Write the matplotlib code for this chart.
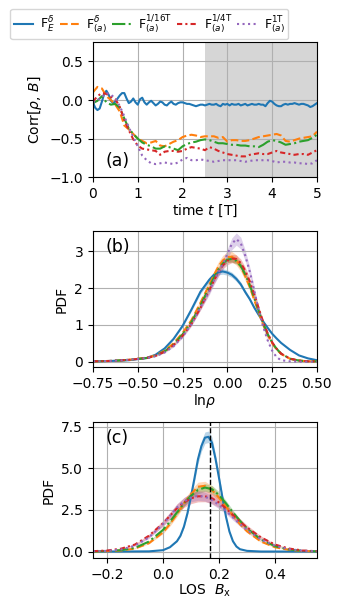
import matplotlib
matplotlib.use("Agg")
import matplotlib.pyplot as plt
import numpy as np

# ---- panel (a): correlation vs time ----
T_BLUE = np.arange(0, 101) * 0.05
CORR_E = [
    -0.03, -0.10, -0.13, -0.11, -0.02, 0.08, 0.12, 0.07, -0.01, -0.04,
    -0.02, 0.02, 0.06, 0.09, 0.09, 0.02, -0.04, -0.02, 0.02, -0.03,
    -0.06, 0.01, 0.03, -0.03, -0.06, -0.03, -0.01, -0.04, -0.07, -0.05,
    -0.02, -0.03, -0.06, -0.07, -0.04, -0.02, -0.05, -0.06, -0.04, -0.03,
    -0.03, -0.04, -0.05, -0.05, -0.06, -0.07, -0.08, -0.07, -0.06, -0.06,
    -0.07, -0.06, -0.05, -0.06, -0.06, -0.05, -0.07, -0.08, -0.05, -0.06,
    -0.05, -0.07, -0.05, -0.06, -0.06, -0.05, -0.07, -0.06, -0.05, -0.07,
    -0.06, -0.05, -0.06, -0.06, -0.05, -0.06, -0.06, -0.08, -0.04, -0.01,
    -0.02, -0.05, -0.07, -0.08, -0.08, -0.06, -0.05, -0.06, -0.05, -0.05,
    -0.04, -0.05, -0.06, -0.05, -0.05, -0.06, -0.07, -0.09, -0.08, -0.06,
    -0.04,
]
T_A = np.arange(0, 51) * 0.1
CORR_DELTA = [
    0.10, 0.17, 0.15, 0.05, 0.00, -0.06, -0.15, -0.33, -0.38, -0.44,
    -0.50, -0.53, -0.56, -0.55, -0.53, -0.59, -0.60, -0.57, -0.54, -0.52,
    -0.48, -0.46, -0.45, -0.46, -0.48, -0.47, -0.47, -0.47, -0.49, -0.48,
    -0.54, -0.52, -0.52, -0.53, -0.53, -0.52, -0.50, -0.48, -0.47, -0.46,
    -0.45, -0.44, -0.46, -0.53, -0.54, -0.52, -0.50, -0.49, -0.48, -0.47,
    -0.41,
]
CORR_16T = [
    -0.04, -0.01, 0.05, -0.03, -0.06, -0.05, -0.10, -0.24, -0.37, -0.44,
    -0.50, -0.55, -0.58, -0.60, -0.63, -0.63, -0.60, -0.61, -0.63, -0.65,
    -0.60, -0.57, -0.55, -0.54, -0.52, -0.51, -0.52, -0.54, -0.56, -0.56,
    -0.57, -0.58, -0.58, -0.59, -0.59, -0.60, -0.60, -0.61, -0.58, -0.54,
    -0.52, -0.53, -0.55, -0.58, -0.57, -0.56, -0.54, -0.53, -0.52, -0.49,
    -0.45,
]
CORR_4T = [
    -0.02, 0.05, 0.09, 0.08, 0.04, 0.01, -0.09, -0.26, -0.39, -0.51,
    -0.59, -0.63, -0.64, -0.65, -0.66, -0.71, -0.67, -0.66, -0.66, -0.67,
    -0.66, -0.63, -0.61, -0.62, -0.63, -0.65, -0.61, -0.63, -0.66, -0.68,
    -0.70, -0.71, -0.72, -0.73, -0.73, -0.71, -0.70, -0.69, -0.70, -0.70,
    -0.68, -0.66, -0.68, -0.69, -0.70, -0.71, -0.70, -0.70, -0.71, -0.68,
    -0.65,
]
CORR_1T = [
    -0.03, 0.00, 0.04, 0.09, 0.07, 0.02, -0.08, -0.21, -0.35, -0.48,
    -0.60, -0.72, -0.78, -0.82, -0.83, -0.82, -0.81, -0.82, -0.83, -0.81,
    -0.77, -0.75, -0.78, -0.78, -0.77, -0.78, -0.79, -0.80, -0.79, -0.78,
    -0.78, -0.78, -0.78, -0.79, -0.80, -0.79, -0.78, -0.78, -0.78, -0.78,
    -0.79, -0.81, -0.80, -0.80, -0.81, -0.81, -0.82, -0.82, -0.83, -0.82,
    -0.78,
]
SHADE_START, SHADE_END = 2.5, 5.0

# ---- panel (b): PDF of ln rho ----
LNRHO = [-0.75, -0.65, -0.55, -0.45, -0.4, -0.35, -0.3, -0.25, -0.2, -0.15,
         -0.1, -0.075, -0.05, -0.025, 0.0, 0.025, 0.05, 0.075, 0.1, 0.125,
         0.15, 0.175, 0.2, 0.225, 0.25, 0.275, 0.3, 0.35, 0.4, 0.45, 0.5]
PDF_B_E = [0.01, 0.02, 0.04, 0.10, 0.19, 0.36, 0.62, 0.97, 1.42, 1.90,
           2.23, 2.36, 2.43, 2.45, 2.42, 2.36, 2.25, 2.10, 1.89, 1.70,
           1.47, 1.27, 1.09, 0.92, 0.76, 0.63, 0.51, 0.32, 0.17, 0.09, 0.04]
PDF_B_DELTA = [0.01, 0.02, 0.05, 0.11, 0.17, 0.30, 0.50, 0.78, 1.13, 1.60,
               2.10, 2.35, 2.58, 2.75, 2.84, 2.85, 2.76, 2.58, 2.32, 2.03,
               1.68, 1.33, 1.00, 0.72, 0.50, 0.33, 0.21, 0.08, 0.03, 0.01, 0.01]
PDF_B_16T = [0.01, 0.02, 0.05, 0.10, 0.16, 0.28, 0.47, 0.74, 1.08, 1.53,
             2.03, 2.28, 2.50, 2.67, 2.77, 2.79, 2.74, 2.60, 2.37, 2.08,
             1.74, 1.38, 1.04, 0.75, 0.52, 0.35, 0.22, 0.08, 0.03, 0.01, 0.01]
PDF_B_4T = [0.01, 0.02, 0.05, 0.10, 0.16, 0.27, 0.45, 0.70, 1.03, 1.46,
            1.95, 2.20, 2.43, 2.62, 2.74, 2.80, 2.79, 2.68, 2.47, 2.18,
            1.83, 1.45, 1.08, 0.77, 0.53, 0.35, 0.22, 0.08, 0.03, 0.01, 0.01]
PDF_B_1T = [0.01, 0.02, 0.05, 0.10, 0.15, 0.25, 0.42, 0.68, 1.02, 1.48,
            1.92, 2.20, 2.43, 2.65, 2.92, 3.20, 3.33, 3.22, 2.88, 2.45,
            1.93, 1.40, 0.95, 0.58, 0.30, 0.12, 0.04, 0.01, 0.00, 0.00, 0.00]
REL_ERR_B = [0.03, 0.05, 0.03, 0.04, 0.05]

# ---- panel (c): PDF of LOS B_x ----
BX_E = [-0.25, -0.15, -0.05, 0.0, 0.025, 0.05, 0.0625, 0.075, 0.0875, 0.1,
        0.1125, 0.125, 0.1375, 0.15, 0.1625, 0.175, 0.1875, 0.2, 0.2125,
        0.225, 0.2375, 0.25, 0.2625, 0.275, 0.3, 0.35, 0.45, 0.55]
PDF_C_E = [0.0, 0.0, 0.01, 0.08, 0.26, 0.62, 0.95, 1.50, 2.30, 3.30,
           4.40, 5.55, 6.35, 6.85, 6.90, 6.55, 5.60, 4.45, 3.25,
           2.10, 1.20, 0.62, 0.30, 0.14, 0.04, 0.0, 0.0, 0.0]
BX = [-0.25, -0.2, -0.15, -0.1, -0.05, 0.0, 0.025, 0.05, 0.075, 0.1, 0.125,
      0.15, 0.175, 0.2, 0.225, 0.25, 0.275, 0.3, 0.35, 0.4, 0.45, 0.5, 0.55]
PDF_C_DELTA = [0.0, 0.02, 0.06, 0.18, 0.50, 1.15, 1.65, 2.25, 2.90, 3.45, 3.90,
               3.95, 3.70, 3.25, 2.70, 2.15, 1.65, 1.22, 0.60, 0.26, 0.10, 0.03, 0.01]
PDF_C_16T = [0.0, 0.03, 0.08, 0.22, 0.60, 1.30, 1.80, 2.35, 2.90, 3.35, 3.70,
             3.85, 3.75, 3.40, 2.90, 2.35, 1.85, 1.40, 0.72, 0.32, 0.12, 0.04, 0.01]
PDF_C_4T = [0.02, 0.06, 0.17, 0.42, 0.95, 1.70, 2.15, 2.60, 2.95, 3.20, 3.32,
            3.33, 3.20, 2.95, 2.60, 2.20, 1.80, 1.45, 0.85, 0.42, 0.18, 0.06, 0.02]
PDF_C_1T = [0.01, 0.04, 0.12, 0.35, 0.85, 1.65, 2.15, 2.65, 3.00, 3.25, 3.35,
            3.30, 3.10, 2.80, 2.45, 2.05, 1.65, 1.30, 0.72, 0.35, 0.14, 0.05, 0.01]
REL_ERR_C = [0.05, 0.07, 0.06, 0.10, 0.08]
BX_MEAN = 1 / 6

LABELS = [r"F$_{E}^{\delta}$", r"F$^{\delta}_{(a)}$",
          r"F$^{1/16\mathrm{T}}_{(a)}$", r"F$^{1/4\mathrm{T}}_{(a)}$",
          r"F$^{1\mathrm{T}}_{(a)}$"]
COLORS = ["#1f77b4", "#ff7f0e", "#2ca02c", "#d62728", "#9467bd"]
STYLES = ["-", "--", "-.", (0, (2.5, 1.5, 1, 1.5)), ":"]
LW = 1.5
FS = 10

plt.rcParams["font.size"] = FS

fig = plt.figure(figsize=(3.43, 6.11), dpi=100)
ax_a = fig.add_axes([0.271, 0.710, 0.653, 0.221])
ax_b = fig.add_axes([0.271, 0.399, 0.653, 0.223])
ax_c = fig.add_axes([0.271, 0.087, 0.653, 0.222])

# (a)
corr_series = [(T_BLUE, CORR_E), (T_A, CORR_DELTA), (T_A, CORR_16T),
               (T_A, CORR_4T), (T_A, CORR_1T)]
ax_a.axvspan(SHADE_START, SHADE_END, color="0.84", lw=0)
handles = []
for (t, y), c, ls, lab in zip(corr_series, COLORS, STYLES, LABELS):
    h, = ax_a.plot(t, y, color=c, ls=ls, lw=LW, label=lab)
    handles.append(h)
ax_a.set_xlim(0, 5)
ax_a.set_ylim(-1.0, 0.75)
ax_a.set_yticks([-1.0, -0.5, 0.0, 0.5])
ax_a.set_xticks([0, 1, 2, 3, 4, 5])
ax_a.grid(True)
ax_a.set_xlabel(r"time $t$ [T]", labelpad=1)
ax_a.set_ylabel(r"Corr[$\rho$, $B$]")
ax_a.text(0.055, 0.12, "(a)", transform=ax_a.transAxes, fontsize=12.5,
          ha="left", va="center")

# (b)
pdf_b = [PDF_B_E, PDF_B_DELTA, PDF_B_16T, PDF_B_4T, PDF_B_1T]
x_b = np.array(LNRHO)
for y, c, ls, err in zip(pdf_b, COLORS, STYLES, REL_ERR_B):
    y = np.array(y)
    ax_b.fill_between(x_b, y * (1 - err), y * (1 + err), color=c, alpha=0.3, lw=0)
    ax_b.plot(x_b, y, color=c, ls=ls, lw=LW)
ax_b.set_xlim(-0.75, 0.5)
ax_b.set_ylim(-0.15, 3.55)
ax_b.set_xticks([-0.75, -0.5, -0.25, 0.0, 0.25, 0.5])
ax_b.set_yticks([0, 1, 2, 3])
ax_b.grid(True)
ax_b.set_xlabel(r"$\mathrm{ln}\rho$", labelpad=1)
ax_b.set_ylabel("PDF")
ax_b.text(0.055, 0.88, "(b)", transform=ax_b.transAxes, fontsize=12.5,
          ha="left", va="center")

# (c)
pdf_c = [(BX_E, PDF_C_E), (BX, PDF_C_DELTA), (BX, PDF_C_16T),
         (BX, PDF_C_4T), (BX, PDF_C_1T)]
for (x, y), c, ls, err in zip(pdf_c, COLORS, STYLES, REL_ERR_C):
    x = np.array(x)
    y = np.array(y)
    ax_c.fill_between(x, y * (1 - err), y * (1 + err), color=c, alpha=0.3, lw=0)
    ax_c.plot(x, y, color=c, ls=ls, lw=LW)
ax_c.axvline(BX_MEAN, color="k", ls="--", lw=1)
ax_c.set_xlim(-0.25, 0.55)
ax_c.set_ylim(-0.38, 7.78)
ax_c.set_xticks([-0.2, 0.0, 0.2, 0.4])
ax_c.set_yticks([0.0, 2.5, 5.0, 7.5])
ax_c.grid(True)
ax_c.set_xlabel(r"LOS  $B_{\mathrm{x}}$", labelpad=1)
ax_c.set_ylabel("PDF")
ax_c.text(0.055, 0.88, "(c)", transform=ax_c.transAxes, fontsize=12.5,
          ha="left", va="center")

fig.legend(handles=handles, loc="upper left", bbox_to_anchor=(10 / 343, 1 - 9 / 611),
           ncol=5, fontsize=9, handlelength=1.5, columnspacing=0.4,
           handletextpad=0.6, borderaxespad=0, borderpad=0.3)

fig.savefig("out.png", dpi=100)
plt.close(fig)
